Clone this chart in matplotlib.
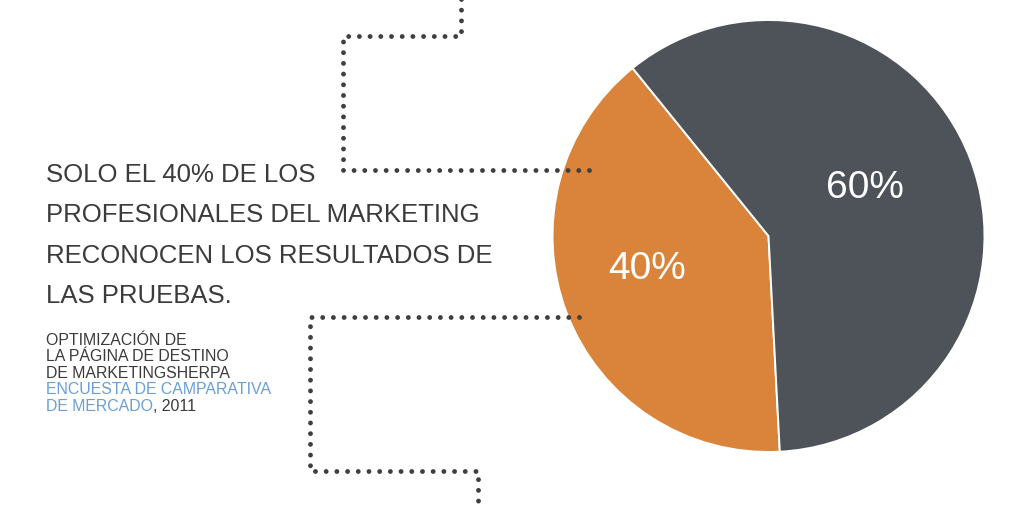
import matplotlib
matplotlib.use("Agg")
import matplotlib.pyplot as plt
import numpy as np

# ---- data ----
categories = ["Reconocen los resultados", "No los reconocen"]
values = [40, 60]
pct_labels = [f"{v}%" for v in values]
title_lines = ["SOLO EL 40% DE LOS", "PROFESIONALES DEL MARKETING",
               "RECONOCEN LOS RESULTADOS DE", "LAS PRUEBAS."]
source_lines = ["OPTIMIZACIÓN DE", "LA PÁGINA DE DESTINO", "DE MARKETINGSHERPA"]
source_blue = ["ENCUESTA DE CAMPARATIVA", "DE MERCADO"]
source_year = ", 2011"

colors = ["#d9843a", "#4e535a"]
text_dark = "#3b3b3b"
text_blue = "#6a9fd6"
dot_color = "#3f3f3f"

W, H = 1024, 510
fig = plt.figure(figsize=(W / 100, H / 100), dpi=100)
fig.patch.set_facecolor("white")

# pie axes
cx, cy, r = 768.5, 237.0, 216.0
pa = fig.add_axes([(cx - r) / W, 1 - (cy + r) / H, 2 * r / W, 2 * r / H])
pa.pie(values, colors=colors, startangle=129, counterclock=True,
       wedgeprops=dict(edgecolor="white", linewidth=1.4), radius=1.0)
pa.set_xlim(-1, 1)
pa.set_ylim(-1, 1)
pa.set_aspect("auto")
pa.axis("off")
label_pos = [(-0.5625, -0.15), (0.447, 0.225)]
for (lx, ly), lab in zip(label_pos, pct_labels):
    pa.text(lx, ly, lab, ha="center", va="center", color="white",
            fontsize=28, family=["Liberation Sans", "DejaVu Sans"],
            fontweight="normal")

# overlay axes in pixel coordinates (for text and connector lines), above pie
ov = fig.add_axes([0, 0, 1, 1])
ov.set_xlim(0, W)
ov.set_ylim(H, 0)
ov.axis("off")
ov.patch.set_alpha(0)

# connector dotted paths
paths = [
    [(461, -5), (461, 37), (342.5, 37), (342.5, 171), (596, 171)],
    [(579, 318.3), (310, 318.3), (310, 471.5), (477.7, 471.5), (477.7, 515)],
]
for p in paths:
    xs, ys = zip(*p)
    ov.plot(xs, ys, color=dot_color, lw=3.5, linestyle=(0, (0.001, 2.2)),
            dash_capstyle="round", solid_capstyle="round", zorder=1)

# title text
fam = ["Liberation Sans", "DejaVu Sans"]
for i, line in enumerate(title_lines):
    ov.text(46, 181.7 + 40.5 * i, line, fontsize=18.5, color=text_dark,
            family=fam, va="baseline", ha="left")

# source text
y0, step = 345, 16.5
fs = 11.4
for i, line in enumerate(source_lines):
    ov.text(46, y0 + step * i, line, fontsize=fs, color=text_dark,
            family=fam, va="baseline", ha="left")
n = len(source_lines)
ov.text(46, y0 + step * n, source_blue[0], fontsize=fs, color=text_blue,
        family=fam, va="baseline", ha="left")
t_last = ov.text(46, y0 + step * (n + 1), source_blue[1], fontsize=fs,
                 color=text_blue, family=fam, va="baseline", ha="left")
ov.annotate(source_year, xy=(1, 0), xycoords=t_last, va="bottom", ha="left",
            fontsize=fs, color=text_dark, family=fam)

fig.savefig("out.png", dpi=100, facecolor="white")
